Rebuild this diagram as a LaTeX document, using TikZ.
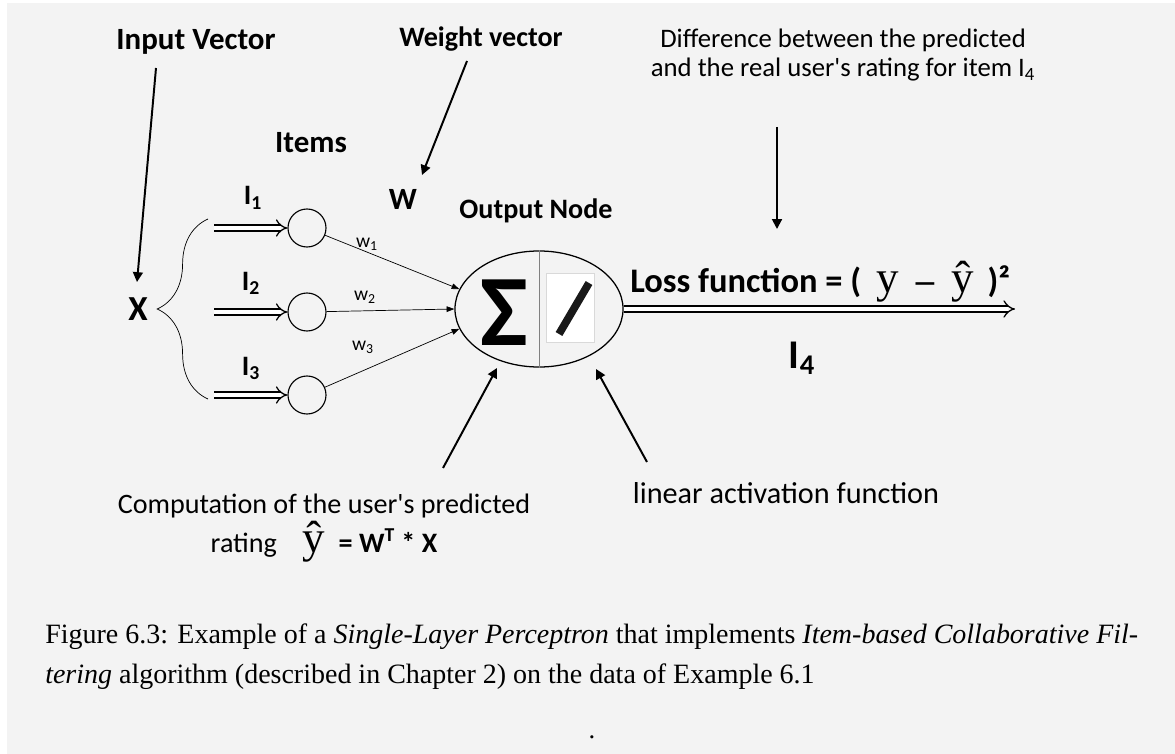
\documentclass[tikz,border=0pt]{standalone}
\usepackage{fontspec}
\setmainfont{Carlito}
\newfontfamily\capfont{Liberation Serif}
\usetikzlibrary{arrows.meta,shapes.geometric,decorations.pathreplacing}
\definecolor{bggray}{HTML}{F3F3F3}
\newcommand{\fs}[1]{\fontsize{#1}{#1}\selectfont}
\tikzset{
  lbl/.style={font=\bfseries\fs{22}, inner sep=0pt, anchor=base},
  txt/.style={font=\fs{19}, inner sep=0pt, anchor=base},
  ptr/.style={line width=1.4pt, -{Triangle[length=7pt,width=7pt]}},
  wedge/.style={line width=.5pt, -{Triangle[length=5.5pt,width=4pt]}},
  hollow/.style={double, double distance=3.4pt, line width=.9pt, -{Implies}},
  unit/.style={circle, draw, line width=.8pt, minimum size=.95cm, inner sep=0pt},
}
\begin{document}
\begin{tikzpicture}[x=.025cm, y=-.025cm]
  \fill[white] (0,0) rectangle (1175,754);
  \fill[bggray] (7,3) rectangle (1175,754);
  \useasboundingbox (0,0) rectangle (1175,754);

  % top labels
  \node[lbl] (inVec) at (196,50) {Input Vector};
  \node[lbl, font=\bfseries\fs{20}] (wVec) at (481,47) {Weight vector};
  \node[txt] (diff1) at (843,48) {Difference between the predicted};
  \node[txt] (diff2) at (843,77) {and the real user\textquotesingle s rating for item I\textsubscript{4}};
  \node[lbl] (items) at (311,153) {Items};
  \node[lbl] (wlbl) at (403,210) {W};
  \node[lbl, font=\bfseries\fs{20}] (outLbl) at (536,219) {Output Node};

  % input units
  \node[lbl, font=\bfseries\fs{25}] (xlbl) at (138,320) {X};
  \foreach \i/\y in {1/228, 2/312, 3/395} {
    \node[unit] (n\i) at (307,\y) {};
    \coordinate (s\i) at (214,\y);
    \draw[hollow] (s\i) -- (n\i);
  }
  \node[lbl, font=\bfseries\fs{20}] (i1) at (253,205) {I\textsubscript{1}};
  \node[lbl, font=\bfseries\fs{20}] (i2) at (251,290) {I\textsubscript{2}};
  \node[lbl, font=\bfseries\fs{20}] (i3) at (251,375) {I\textsubscript{3}};
  \draw[line width=.5pt, decorate, decoration={brace, amplitude=1.27cm}] (208,399) -- (208,219);

  % output node
  \node[ellipse, draw, line width=.9pt, minimum width=4.2cm, minimum height=2.9cm, inner sep=0pt] (out) at (539,309) {};
  \draw[gray, line width=.6pt] (out.north) -- (out.south);
  \node[font=\bfseries\fs{72}, inner sep=0pt] (sig) at (504,313) {Σ};
  \node[draw=gray!30, fill=white, minimum width=1.2cm, minimum height=1.725cm, inner sep=0pt] (act) at (570,307.5) {};
  \draw[line width=5.5pt, black!90] (559,334) -- (589,283);

  % weights
  \foreach \i/\a in {1/166, 2/180, 3/194}
    \draw[wedge] (n\i) -- (out.\a);
  \node[txt, font=\fs{14}] (w1) at (367,247) {w\textsubscript{1}};
  \node[txt, font=\fs{14}] (w2) at (365,300) {w\textsubscript{2}};
  \node[txt, font=\fs{14}] (w3) at (363,350) {w\textsubscript{3}};

  % output
  \coordinate (lossEnd) at (1015,309);
  \draw[hollow] (out.east) -- (lossEnd);
  \node[lbl, font=\bfseries\fs{24.5}, anchor=base west] (loss) at (630,292) {Loss function = (\hspace{11pt}{\capfont\mdseries\fs{32}y}\hspace{12pt}{\capfont\bfseries\fs{26}–}\hspace{12pt}{\capfont\mdseries\fs{32}ŷ}\hspace{10pt})²};
  \node[lbl, font=\bfseries\fs{29}] (i4) at (802,368) {I\textsubscript{4}};

  % bottom labels
  \node[txt, font=\fs{20}] (comp1) at (324,513) {Computation of the user\textquotesingle s predicted};
  \node[txt, font=\fs{20}] (comp2) at (324,552) {rating\hspace{.9em}{\capfont\fs{32}ŷ}\hspace{.5em}\textbf{= W\textsuperscript{T} * X}};
  \node[txt, font=\fs{21.5}] (lin) at (786,503) {linear activation function};

  % pointers
  \coordinate (ivA) at (156,68);  \coordinate (ivB) at (137,282);
  \coordinate (wvA) at (467,61);  \coordinate (wvB) at (422,175);
  \coordinate (dfA) at (777,127); \coordinate (dfB) at (777,229);
  \coordinate (cpA) at (443,468); \coordinate (cpB) at (497,368);
  \coordinate (lnA) at (647,462); \coordinate (lnB) at (596,369);
  \foreach \p in {iv, wv, df, cp, ln}
    \draw[ptr] (\p A) -- (\p B);

  % caption
  \node[anchor=base west, inner sep=0pt, font=\capfont\fs{19.9}] (cap1) at (45,643) {Figure 6.3: Example of a \textit{Single-Layer Perceptron} that implements \textit{Item-based Collaborative Fil-}};
  \node[anchor=base west, inner sep=0pt, font=\capfont\fs{19.9}] (cap2) at (45,683) {\textit{tering} algorithm (described in Chapter 2) on the data of Example 6.1};
  \node[font=\capfont\fs{19}, inner sep=0pt, anchor=base] (dot) at (592,738) {.};
\end{tikzpicture}
\end{document}
